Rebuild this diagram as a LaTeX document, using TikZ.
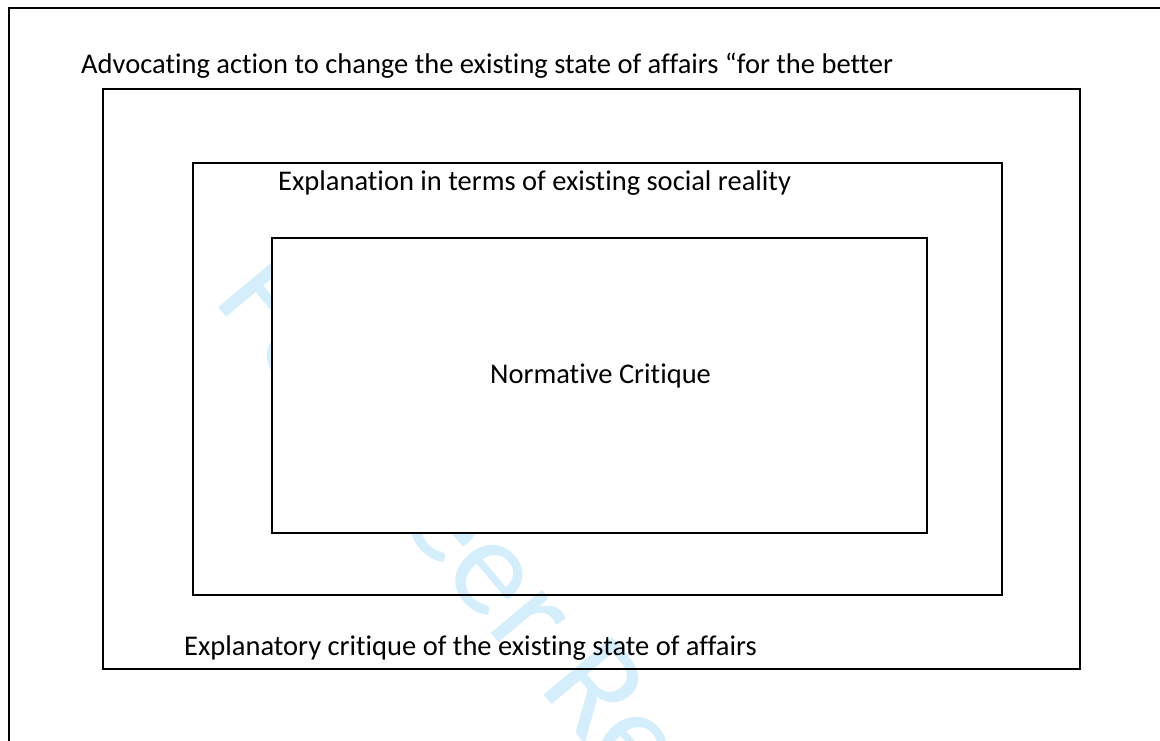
\documentclass[tikz,border=0pt]{standalone}
\usepackage{fontspec}
\setmainfont{Carlito}[Ligatures={NoCommon}]
\definecolor{wmark}{RGB}{212,238,251}
\begin{document}
\begin{tikzpicture}[x=1pt,y=-1pt,
  frame/.style={draw=black,line width=2.3pt},
  label/.style={anchor=base west,inner sep=0pt,font=\fontsize{28.5}{32}\selectfont},
  stamp/.style={anchor=base west,inner sep=0pt,text=wmark,rotate=-50,
    font=\fontsize{140}{145}\selectfont}]
\useasboundingbox (0,0) rectangle (1160,741);
\fill[white] (0,0) rectangle (1160,741);
% review stamp behind the boxes
\node[stamp] (wm) at (212,300) {For Peer Review};
% page frame (top and left edges)
\coordinate (ftr) at (1160,8);
\coordinate (ftl) at (9,8);
\coordinate (fbl) at (9,741);
\draw[frame] (ftr) -- (ftl) -- (fbl);
% nested boxes
\draw[frame] (103,89) rectangle (1080,669);
\draw[frame] (193,163) rectangle (1002,595);
\draw[frame,fill=white] (272,238) rectangle (927,533);
% labels
\node[label] (adv) at (81,74) {Advocating action to change the existing state of affairs “for the better};
\node[label] (expl) at (278,190) {Explanation in terms of existing social reality};
\node[label] (norm) at (490,383) {Normative Critique};
\node[label] (crit) at (184,655) {Explanatory critique of the existing state of affairs};
\end{tikzpicture}
\end{document}
